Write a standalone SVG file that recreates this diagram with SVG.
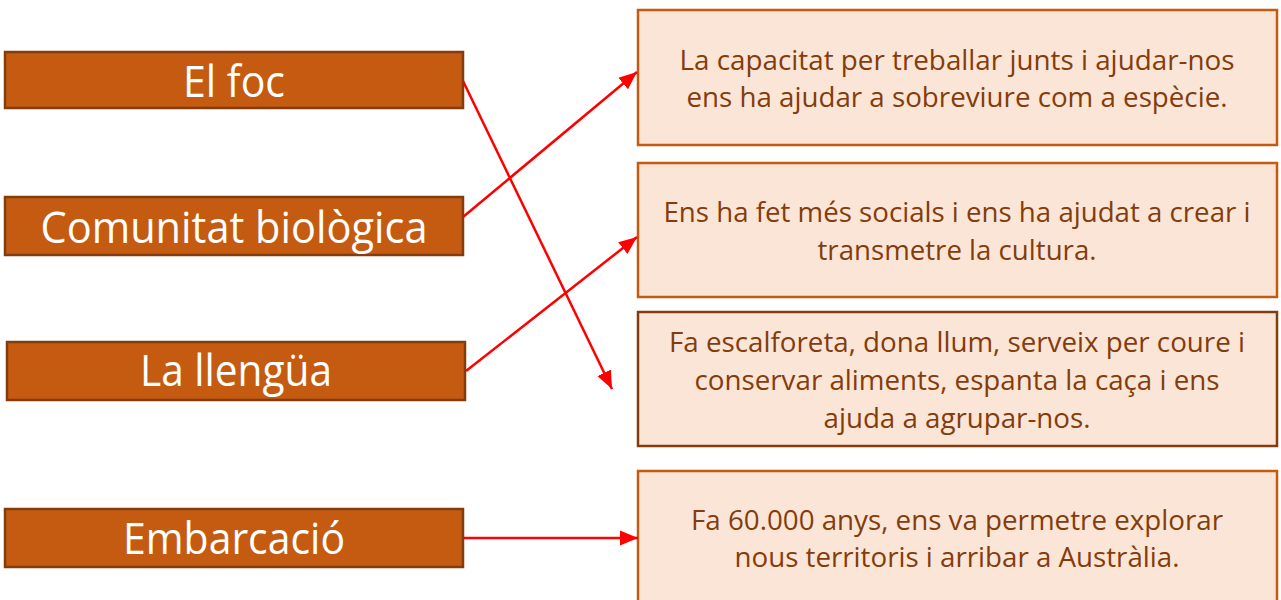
<svg xmlns="http://www.w3.org/2000/svg" width="1281" height="600" viewBox="0 0 1281 600">
<style>
.lbox{fill:#C55A11;stroke:#843C0C;stroke-width:2.5}
.ltxt{font-family:"Open Sans","Liberation Sans",sans-serif;font-size:43px;fill:#FFFFFF;text-anchor:middle}
.rbox{fill:#FBE5D6;stroke:#C55A11;stroke-width:2.5}
.rbox.dark{stroke:#843C0C}
.rtxt{font-family:"Open Sans","Liberation Sans",sans-serif;font-size:27.5px;fill:#843C0C;text-anchor:middle}
.conn{stroke:#FF0000;stroke-width:2.5;fill:none;marker-end:url(#arr)}
</style>
<defs>
<marker id="arr" markerUnits="userSpaceOnUse" markerWidth="20" markerHeight="16" refX="18" refY="8" orient="auto">
<path d="M0,0.5 L18,8 L0,15.5 Z" fill="#FF0000"/>
</marker>
</defs>
<rect width="1281" height="600" fill="#FFFFFF"/>
<g id="node-el-foc">
<rect class="lbox" x="5" y="52" width="458" height="56"/>
<text class="ltxt" x="234" y="97" textLength="102" lengthAdjust="spacingAndGlyphs">El foc</text>
</g>
<g id="node-comunitat">
<rect class="lbox" x="5" y="197" width="458" height="58"/>
<text class="ltxt" x="234" y="243" textLength="387" lengthAdjust="spacingAndGlyphs">Comunitat biològica</text>
</g>
<g id="node-llengua">
<rect class="lbox" x="7" y="342" width="458" height="58"/>
<text class="ltxt" x="236" y="386" textLength="192" lengthAdjust="spacingAndGlyphs">La llengüa</text>
</g>
<g id="node-embarcacio">
<rect class="lbox" x="5" y="509" width="458" height="58"/>
<text class="ltxt" x="234" y="554" textLength="222" lengthAdjust="spacingAndGlyphs">Embarcació</text>
</g>
<g id="node-desc-1">
<rect class="rbox" x="638" y="10" width="639" height="135"/>
<text class="rtxt" x="957" y="70" textLength="555" lengthAdjust="spacingAndGlyphs">La capacitat per treballar junts i ajudar-nos</text>
<text class="rtxt" x="957" y="107" textLength="541" lengthAdjust="spacingAndGlyphs">ens ha ajudar a sobreviure com a espècie.</text>
</g>
<g id="node-desc-2">
<rect class="rbox" x="638" y="163" width="639" height="134"/>
<text class="rtxt" x="957" y="222" textLength="587" lengthAdjust="spacingAndGlyphs">Ens ha fet més socials i ens ha ajudat a crear i</text>
<text class="rtxt" x="957" y="260" textLength="279" lengthAdjust="spacingAndGlyphs">transmetre la cultura.</text>
</g>
<g id="node-desc-3">
<rect class="rbox dark" x="638" y="312" width="639" height="134"/>
<text class="rtxt" x="957" y="352" textLength="576" lengthAdjust="spacingAndGlyphs">Fa escalforeta, dona llum, serveix per coure i</text>
<text class="rtxt" x="957" y="390" textLength="525" lengthAdjust="spacingAndGlyphs">conservar aliments, espanta la caça i ens</text>
<text class="rtxt" x="957" y="428" textLength="267" lengthAdjust="spacingAndGlyphs">ajuda a agrupar-nos.</text>
</g>
<g id="node-desc-4">
<rect class="rbox" x="638" y="471" width="639" height="140"/>
<text class="rtxt" x="957" y="530" textLength="532" lengthAdjust="spacingAndGlyphs">Fa 60.000 anys, ens va permetre explorar</text>
<text class="rtxt" x="957" y="567" textLength="445" lengthAdjust="spacingAndGlyphs">nous territoris i arribar a Austràlia.</text>
</g>
<g id="connectors">
<line class="conn" x1="463" y1="81" x2="612" y2="389"/>
<line class="conn" x1="463" y1="217" x2="637" y2="72"/>
<line class="conn" x1="466" y1="371" x2="637" y2="237"/>
<line class="conn" x1="463" y1="538" x2="638" y2="538"/>
</g>
</svg>
